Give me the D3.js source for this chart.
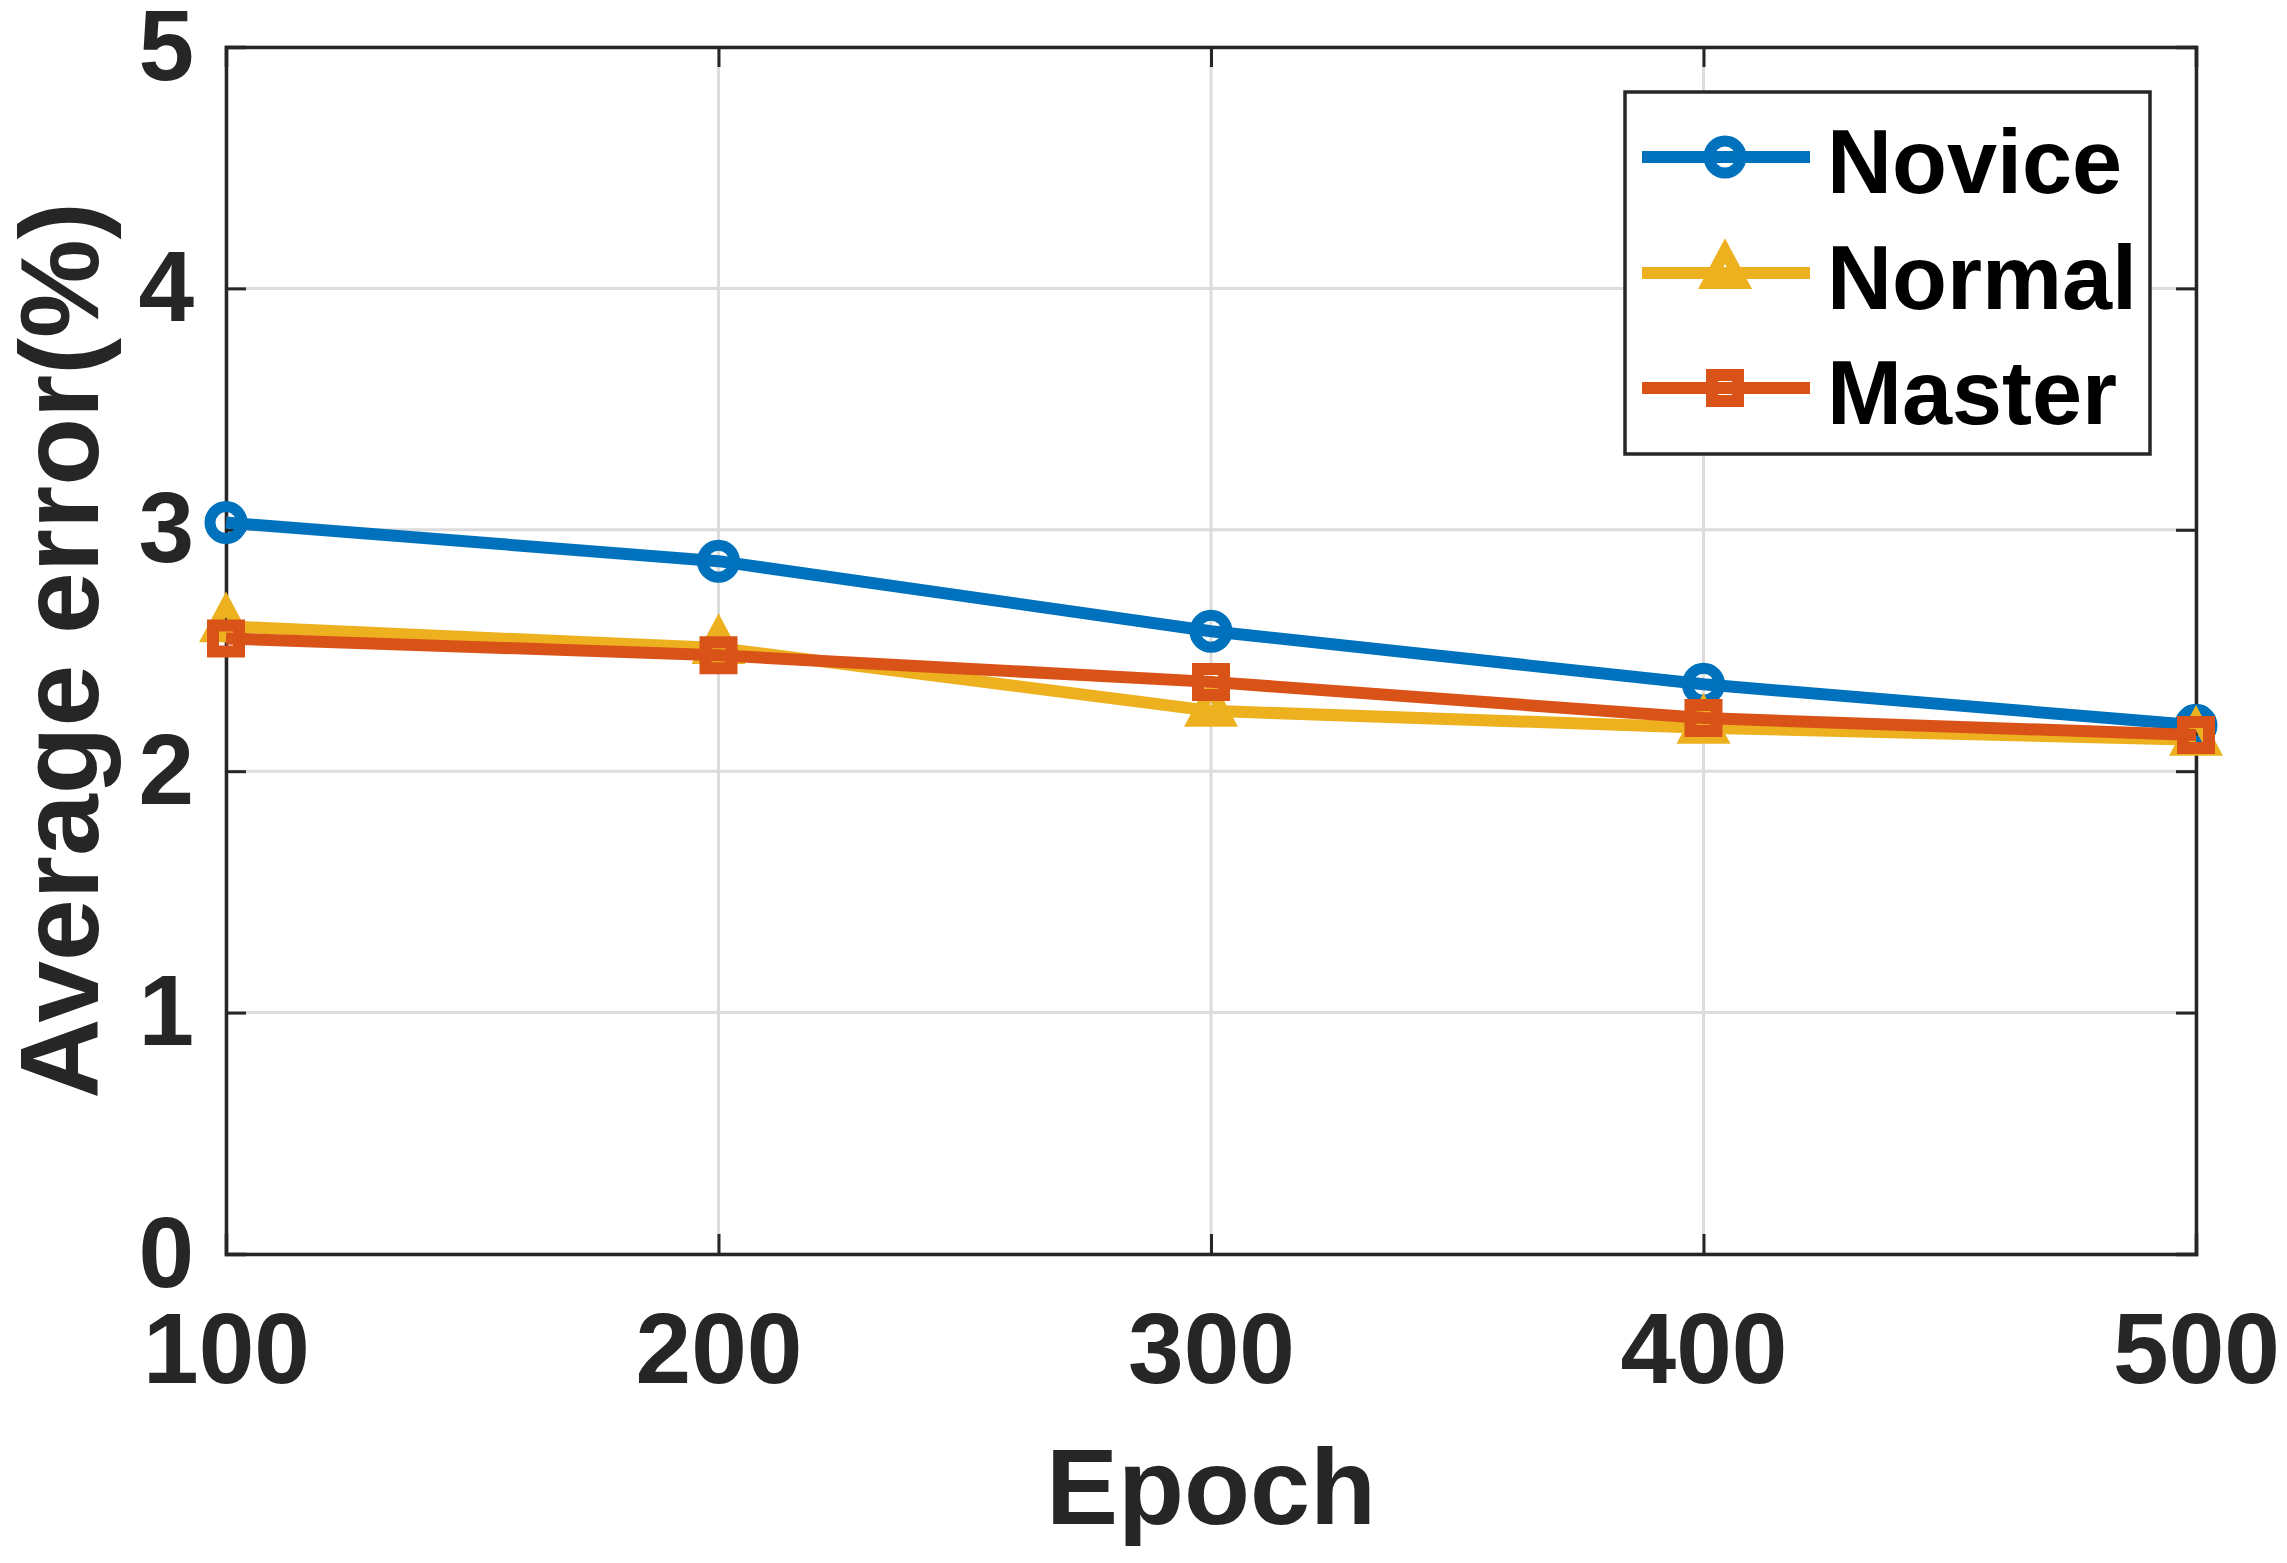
<!DOCTYPE html>
<html>
<head>
<meta charset="utf-8">
<script src="https://cdn.jsdelivr.net/npm/d3@7"></script>
<style>
  body { margin: 0; background: #fff; }
  svg { display: block; font-family: "Liberation Sans", Arial, sans-serif; font-weight: bold; }
</style>
</head>
<body>
<svg id="chart" width="2287" height="1563"></svg>
<script>
// values
const epochs = [100, 200, 300, 400, 500];
const novice = [3.03, 2.87, 2.58, 2.36, 2.19];
const normal = [2.60, 2.51, 2.25, 2.18, 2.13];
const master = [2.55, 2.48, 2.37, 2.22, 2.15];
const seriesNames = ["Novice", "Normal", "Master"];
const yTicks = [0, 1, 2, 3, 4, 5];

const colors = { Novice: "#0072BD", Normal: "#EDB120", Master: "#D95319" };
const markers = { Novice: "circle", Normal: "triangle", Master: "square" };

const svg = d3.select("#chart");
const plotL = 226, plotR = 2196, plotT = 47, plotB = 1254;

const x = d3.scaleLinear().domain([100, 500]).range([plotL, plotR]);
const y = d3.scaleLinear().domain([0, 5]).range([plotB, plotT]);

const axisColor = "#262626";

// grid
svg.append("g").selectAll("line").data(epochs).join("line")
  .attr("x1", d => x(d)).attr("x2", d => x(d))
  .attr("y1", plotT).attr("y2", plotB)
  .attr("stroke", "#dcdcdc").attr("stroke-width", 3);
svg.append("g").selectAll("line").data(yTicks).join("line")
  .attr("x1", plotL).attr("x2", plotR)
  .attr("y1", d => y(d)).attr("y2", d => y(d))
  .attr("stroke", "#dcdcdc").attr("stroke-width", 3);

// axes (inward ticks, box on)
const tk = 20;
const xAxB = svg.append("g").attr("transform", `translate(0,${plotB})`)
  .call(d3.axisBottom(x).tickValues(epochs).tickSize(-tk).tickPadding(58).tickFormat(d3.format("d")));
const xAxT = svg.append("g").attr("transform", `translate(0,${plotT})`)
  .call(d3.axisTop(x).tickValues(epochs).tickSize(-tk).tickFormat(""));
const yAxL = svg.append("g").attr("transform", `translate(${plotL},0)`)
  .call(d3.axisLeft(y).tickValues(yTicks).tickSize(-tk).tickPadding(32).tickFormat(d3.format("d")));
const yAxR = svg.append("g").attr("transform", `translate(${plotR},0)`)
  .call(d3.axisRight(y).tickValues(yTicks).tickSize(-tk).tickFormat(""));

[xAxB, xAxT, yAxL, yAxR].forEach(g => {
  g.select(".domain").attr("stroke", axisColor).attr("stroke-width", 3.5);
  g.selectAll(".tick line").attr("stroke", axisColor).attr("stroke-width", 3);
  g.selectAll("text").attr("fill", axisColor).attr("font-size", 100)
    .attr("font-family", "Liberation Sans, Arial, sans-serif").attr("font-weight", "bold");
});
xAxB.selectAll("text").attr("dy", "0.71em");

// axis titles
svg.append("text").attr("x", (plotL + plotR) / 2).attr("y", 1524)
  .attr("text-anchor", "middle").attr("font-size", 108).attr("fill", axisColor)
  .text("Epoch");
svg.append("text")
  .attr("transform", `translate(98,${(plotT + plotB) / 2}) rotate(-90)`)
  .attr("text-anchor", "middle").attr("font-size", 111).attr("fill", axisColor)
  .text("Average error(%)");

// marker shapes
function markerPath(type) {
  if (type === "circle") return d3.arc()({ innerRadius: 0, outerRadius: 16, startAngle: 0, endAngle: 2 * Math.PI });
  if (type === "square") return "M-13,-13L13,-13L13,13L-13,13Z";
  return "M0,-22L17,10L-17,10Z";
}

const data = {
  Novice: novice, Normal: normal, Master: master
};

const line = d3.line().x((d, i) => x(epochs[i])).y(d => y(d));

seriesNames.forEach(name => {
  const g = svg.append("g");
  g.append("path").datum(data[name])
    .attr("d", line).attr("fill", "none")
    .attr("stroke", colors[name]).attr("stroke-width", 12)
    .attr("stroke-linejoin", "round");
  g.selectAll("path.m").data(data[name]).join("path")
    .attr("class", "m")
    .attr("transform", (d, i) => `translate(${x(epochs[i])},${y(d)})`)
    .attr("d", markerPath(markers[name]))
    .attr("fill", "none").attr("stroke", colors[name])
    .attr("stroke-width", markers[name] === "circle" ? 11 : 12);
});

// legend
const lg = svg.append("g");
lg.append("rect").attr("x", 1625).attr("y", 92).attr("width", 525).attr("height", 362)
  .attr("fill", "#fff").attr("stroke", axisColor).attr("stroke-width", 3.5);
const rowY = [157, 273, 388];
seriesNames.forEach((name, i) => {
  lg.append("line").attr("x1", 1642).attr("x2", 1810).attr("y1", rowY[i]).attr("y2", rowY[i])
    .attr("stroke", colors[name]).attr("stroke-width", 12);
  lg.append("path").attr("transform", `translate(1725,${rowY[i]})`)
    .attr("d", markerPath(markers[name])).attr("fill", "none")
    .attr("stroke", colors[name]).attr("stroke-width", markers[name] === "circle" ? 11 : 12);
  lg.append("text").attr("x", 1827).attr("y", rowY[i] + 36)
    .attr("font-size", 90).attr("fill", "#000").text(name);
});
</script>
</body>
</html>
